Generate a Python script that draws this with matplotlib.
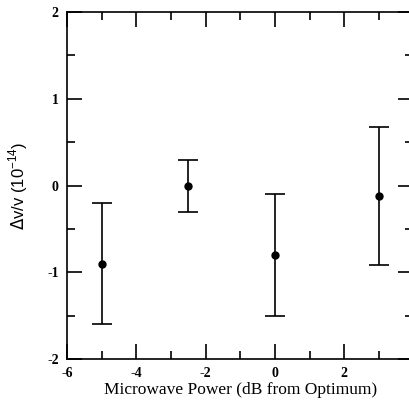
import matplotlib
matplotlib.use('Agg')
import matplotlib.pyplot as plt
from matplotlib.ticker import MultipleLocator

plt.rcParams['axes.unicode_minus'] = False

power = [-5, -2.5, 0, 3]
shift = [-0.9, 0.0, -0.8, -0.12]
err = [0.7, 0.3, 0.7, 0.8]
xticks = [-6, -4, -2, 0, 2]
yticks = [-2, -1, 0, 1, 2]

fig = plt.figure(figsize=(4.09, 4.04), dpi=100)
ax = fig.add_axes([0.164, 0.111, 0.847, 0.859])

ax.errorbar(power, shift, yerr=err, fmt='o', color='black', ms=5,
            capsize=7, elinewidth=1.2, capthick=1.2)

ax.set_xlim(-6, 4)
ax.set_ylim(-2, 2)
ax.set_xticks(xticks)
ax.set_yticks(yticks)
ax.xaxis.set_minor_locator(MultipleLocator(1))
ax.yaxis.set_minor_locator(MultipleLocator(0.5))
ax.tick_params(which='both', direction='in', top=True, right=True, width=1.2)
ax.tick_params(which='major', length=11, labelsize=10, pad=6)
ax.tick_params(which='minor', length=6)
for lab in ax.get_xticklabels() + ax.get_yticklabels():
    lab.set_fontfamily('Liberation Serif')
    lab.set_fontweight('bold')
for s in ax.spines.values():
    s.set_linewidth(1.2)

ax.set_xlabel('Microwave Power (dB from Optimum)', family='Liberation Serif',
              fontsize=12.5, labelpad=1)
ax.set_ylabel(r'$\Delta$v/v (10$^{\mathregular{-14}}$)', family='Liberation Sans',
              fontsize=12, labelpad=12)

fig.savefig('out.png', dpi=100)
